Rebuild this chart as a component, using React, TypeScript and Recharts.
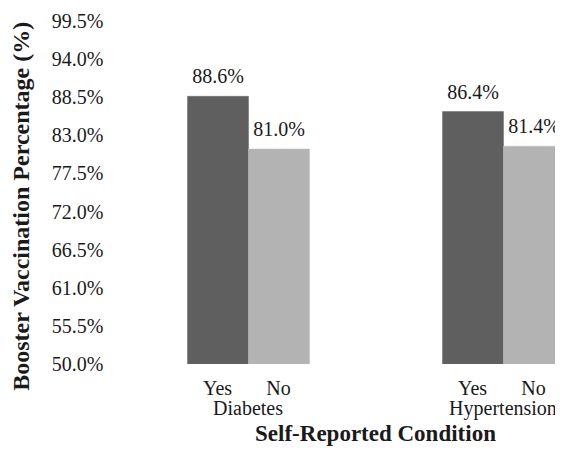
import React from "react";
import { BarChart, Bar, XAxis, YAxis, LabelList } from "recharts";

const categories = ["Diabetes", "Hypertension"];
const yesValues = [88.6, 86.4];
const noValues = [81.0, 81.4];
const yTicks = [50, 55.5, 61, 66.5, 72, 77.5, 83, 88.5, 94, 99.5];
const subLabels = ["Yes", "No"];

const data = categories.map((name, i) => ({
  name,
  yes: yesValues[i],
  no: noValues[i]
}));

const FONT = "Liberation Serif";
const BAR = 61;

const GroupTick = (props: any) => {
  const { x, y, payload } = props;
  return (
    <g style={{ fontFamily: FONT }} fill="#1a1a1a">
      <text x={x - BAR / 2} y={y + 31} textAnchor="middle" fontSize={20}>
        {subLabels[0]}
      </text>
      <text x={x + BAR / 2} y={y + 31} textAnchor="middle" fontSize={20}>
        {subLabels[1]}
      </text>
      <text x={x} y={y + 51} textAnchor="middle" fontSize={20}>
        {payload.value}
      </text>
    </g>
  );
};

const fmt = (v: number) => `${v.toFixed(1)}%`;

export default function App() {
  return (
    <div style={{ width: 563, height: 456, overflow: "hidden", margin: -8, fontFamily: FONT }}>
      <BarChart
        width={640}
        height={456}
        data={data}
        margin={{ top: 20.7, right: 9.5, left: 0, bottom: 0 }}
        barGap={0}
        barSize={BAR}
        style={{ fontFamily: FONT }}
      >
        <XAxis
          dataKey="name"
          axisLine={false}
          tickLine={false}
          tickSize={0}
          tickMargin={0}
          height={92}
          tick={<GroupTick />}
          interval={0}
          label={{
            content: (p: any) => {
              const vb = p.viewBox;
              return (
                <text
                  x={vb.x + vb.width / 2}
                  y={vb.y + 77}
                  textAnchor="middle"
                  style={{ fontFamily: FONT }}
                  fontWeight="bold"
                  fontSize={23}
                  fill="#1a1a1a"
                >
                  Self-Reported Condition
                </text>
              );
            }
          }}
        />
        <YAxis
          width={120.5}
          domain={[50, 99.5]}
          ticks={yTicks}
          allowDataOverflow
          axisLine={false}
          tickLine={false}
          tickSize={0}
          tickMargin={17}
          tickFormatter={fmt}
          tick={{ fontSize: 20, fill: "#1a1a1a", style: { fontFamily: FONT } }}
          label={{
            content: (p: any) => {
              const vb = p.viewBox;
              const cx = 29;
              const cy = vb.y + vb.height / 2 + 14;
              return (
                <text
                  x={cx}
                  y={cy}
                  transform={`rotate(-90, ${cx}, ${cy})`}
                  textAnchor="middle"
                  style={{ fontFamily: FONT }}
                  fontWeight="bold"
                  fontSize={24}
                  fill="#1a1a1a"
                >
                  Booster Vaccination Percentage (%)
                </text>
              );
            }
          }}
        />
        <Bar dataKey="yes" fill="#5f5f5f" stroke="#6a6a6a" strokeWidth={0.5} isAnimationActive={false}>
          <LabelList
            dataKey="yes"
            position="top"
            offset={13}
            formatter={fmt}
            style={{ fontFamily: FONT, fontSize: 20, fill: "#1a1a1a" }}
          />
        </Bar>
        <Bar dataKey="no" fill="#b3b3b3" stroke="#bdbdbd" strokeWidth={0.5} isAnimationActive={false}>
          <LabelList
            dataKey="no"
            position="top"
            offset={13}
            formatter={fmt}
            style={{ fontFamily: FONT, fontSize: 20, fill: "#1a1a1a" }}
          />
        </Bar>
      </BarChart>
    </div>
  );
}
